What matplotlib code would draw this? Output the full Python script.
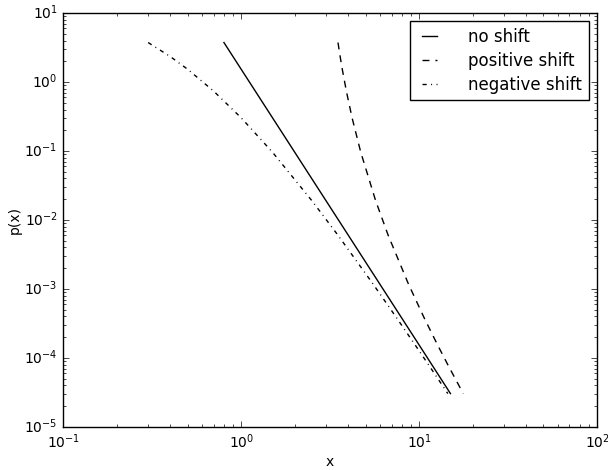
import matplotlib
matplotlib.use("Agg")
import matplotlib.pyplot as plt

plt.style.use("classic")

# values (log-log)
x_none = [0.8, 0.9, 1.0, 1.2, 1.5, 2.0, 3.0, 4.0, 6.0, 8.0, 10.0, 12.0, 15.0]
p_none = [3.75, 2.341, 1.536, 0.7407, 0.3034, 0.096, 0.01896, 0.006,
          0.001185, 0.000375, 0.0001536, 7.41e-5, 3.03e-5]

x_pos = [3.5, 3.6, 3.7, 3.9, 4.2, 4.7, 5.7, 6.7, 8.7, 10.7, 12.7, 14.7, 17.7]
p_pos = p_none

x_neg = [0.3, 0.4, 0.5, 0.7, 1.0, 1.5, 2.5, 3.5, 5.5, 7.5, 9.5, 11.5, 14.5]
p_neg = p_none

fig = plt.figure(figsize=(6.08, 4.70), dpi=100, facecolor="white")
ax = fig.add_axes([0.104, 0.092, 0.878, 0.880])

ax.loglog(x_none, p_none, color="k", ls="-", lw=1, label="no shift")
ax.loglog(x_pos, p_pos, color="k", lw=1, dashes=(5, 4.3),
          label="positive shift")
ax.loglog(x_neg, p_neg, color="k", lw=1, dashes=(3, 3.2, 0.7, 3.2),
          label="negative shift")

ax.set_xlim(0.1, 100)
ax.set_ylim(1e-5, 10)
ax.set_xlabel("x", fontsize=10, labelpad=3)
ax.set_ylabel("p(x)", fontsize=10, labelpad=1.7)
ax.tick_params(labelsize=10)

ax.legend(loc="upper right", fontsize=12, frameon=True, handlelength=1.5,
          handletextpad=1.6, labelspacing=0.35)

fig.savefig("out.png", dpi=100, facecolor="white")
